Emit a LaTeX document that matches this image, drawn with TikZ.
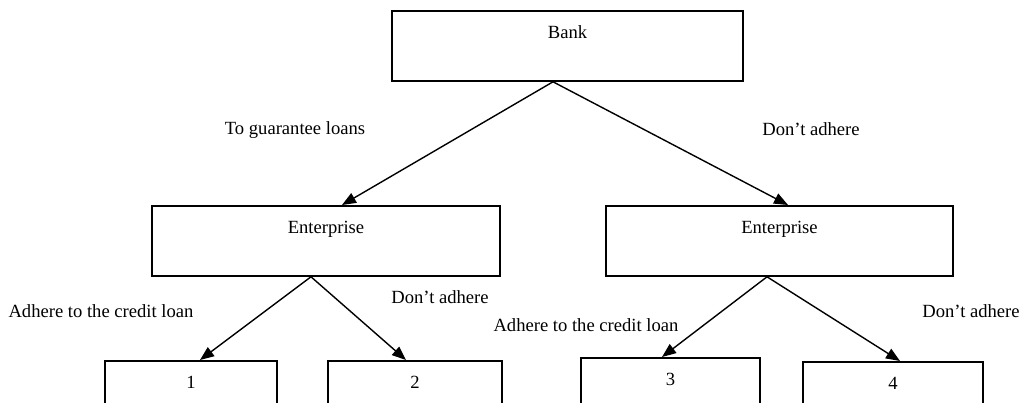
\documentclass[tikz,border=0pt]{standalone}
\usepackage{fontspec}
\setmainfont{Liberation Serif}
\usetikzlibrary{arrows.meta}

\begin{document}
\begin{tikzpicture}[x=1pt, y=-1pt,
        font=\fontsize{18.6}{22}\selectfont,
        box/.style={draw, rectangle, line width=1.8pt, inner sep=0pt, anchor=north,
                    text height=28pt, text depth=42pt},
        arr/.style={line width=1.4pt, -{Triangle[length=14pt, width=11pt]}}]
        \clip (0,0) rectangle (1024,402);

        % Decision boxes
        \node[box, minimum width=351pt] (bank) at (567.5,10) {Bank};
        \node[box, minimum width=348pt] (entL) at (326,205) {Enterprise};
        \node[box, minimum width=347pt] (entR) at (779.5,205) {Enterprise};

        % Outcome boxes
        \node[box, minimum width=172pt] (out1) at (191,360) {1};
        \node[box, minimum width=174pt] (out2) at (415,360) {2};
        \node[box, minimum width=179pt] (out3) at (670.5,357) {3};
        \node[box, minimum width=180pt] (out4) at (893,361) {4};

        % Branch labels
        \node (guar) at (295,130) {To guarantee loans};
        \node (notB) at (811,129) {Don't adhere};
        \node (adhL) at (101,311) {Adhere to the credit loan};
        \node (notL) at (440,297) {Don't adhere};
        \node (adhR) at (586,325) {Adhere to the credit loan};
        \node (notR) at (971,311) {Don't adhere};

        % Branches
        \draw[arr] ([xshift=-14.5pt]bank.south) -- ([xshift=16pt]entL.north);
        \draw[arr] ([xshift=-14.5pt]bank.south) -- ([xshift=8.5pt]entR.north);
        \draw[arr] ([xshift=-15pt]entL.south) -- ([xshift=9pt]out1.north);
        \draw[arr] ([xshift=-15pt]entL.south) -- ([xshift=-9pt]out2.north);
        \draw[arr] ([xshift=-12.5pt]entR.south) -- ([xshift=-8.5pt]out3.north);
        \draw[arr] ([xshift=-12.5pt]entR.south) -- ([xshift=7pt]out4.north);
    \end{tikzpicture}
\end{document}
